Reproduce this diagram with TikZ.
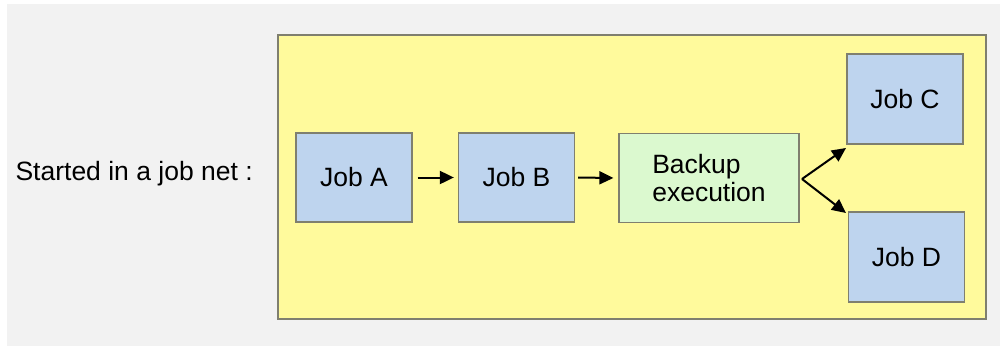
\documentclass[tikz,border=0pt]{standalone}
\usepackage{fontspec}
\setmainfont{Liberation Sans}
\usetikzlibrary{arrows.meta}
\definecolor{panelbg}{HTML}{F2F2F2}
\definecolor{netyellow}{HTML}{FFFA9C}
\definecolor{jobblue}{HTML}{BED4EE}
\definecolor{bkgreen}{HTML}{DBF9CF}
\definecolor{edgegray}{HTML}{7F7F6F}
\begin{document}
\begin{tikzpicture}[x=1pt,y=-1pt,
  box/.style={draw=edgegray,line width=1.3pt,inner sep=0pt},
  jobbox/.style={box,fill=jobblue,minimum width=116pt,minimum height=89pt},
  lbl/.style={font=\fontsize{26.5}{28}\selectfont},
  conn/.style={-{Triangle[length=14pt,width=13pt]},line width=2pt,black}]
\useasboundingbox (0,0) rectangle (1002,349);
\fill[panelbg] (7,4) rectangle (1000,346);
\node[box,fill=netyellow,minimum width=708pt,minimum height=284pt] (net) at (632,177) {};
\node[lbl,anchor=west] (title) at (12,174) {Started in a job net :};
\node[jobbox,lbl] (a) at (354,177.5) {Job A};
\node[jobbox,lbl] (b) at (516.5,177.5) {Job B};
\node[box,fill=bkgreen,minimum width=180pt,minimum height=89pt,lbl,align=left] (bk) at (709,178) {Backup\\execution};
\node[jobbox,minimum height=90pt,lbl] (c) at (905,99) {Job C};
\node[jobbox,minimum height=90pt,lbl] (d) at (906.5,257) {Job D};
\coordinate (fork) at (802,179);
\draw[conn] (a.east) ++(5pt,0) coordinate (a1) -- ([xshift=-4pt]b.west);
\draw[conn] (b.east) ++(3pt,0) coordinate (b1) -- ([xshift=-5pt]bk.west);
\draw[conn] (fork) -- (846,148) coordinate (ct);
\draw[conn] (fork) -- (846,213) coordinate (dt);
\end{tikzpicture}
\end{document}
